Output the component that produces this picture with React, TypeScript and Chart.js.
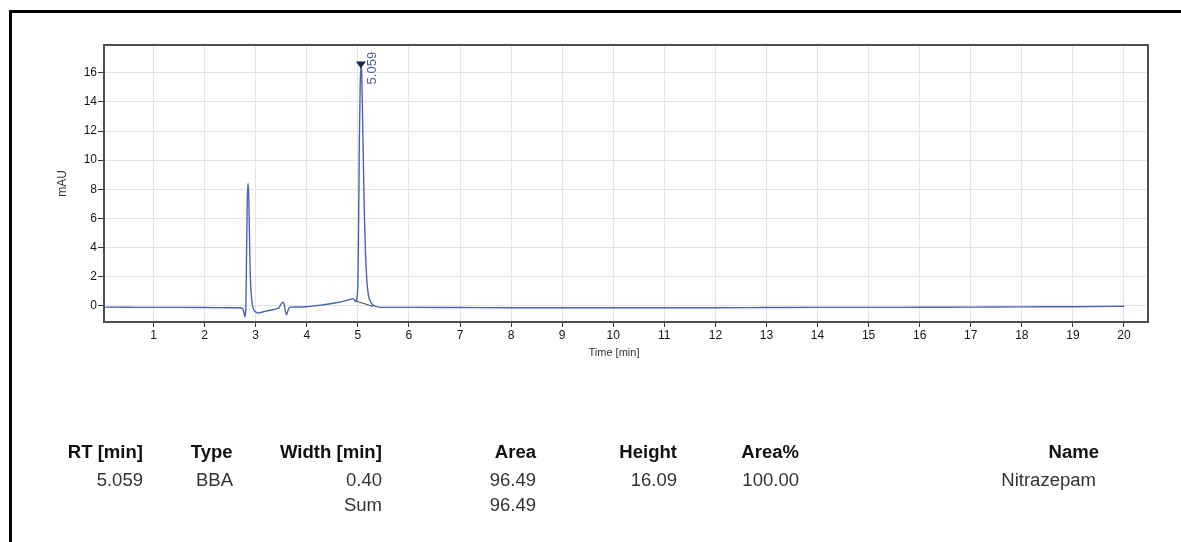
import React, { useEffect, useRef } from 'react';
import { Chart, registerables } from 'chart.js';

Chart.register(...registerables);

// ---- Data ----
const timeMin: number[] = [
  0.03, 0.5, 1.0, 1.5, 2.0, 2.5, 2.7, 2.74, 2.77, 2.79, 2.805, 2.815, 2.825, 2.835, 2.85, 2.865,
  2.875, 2.885, 2.9, 2.92, 2.95, 3.0, 3.05, 3.1, 3.2, 3.3, 3.4, 3.46, 3.5, 3.53, 3.56, 3.58,
  3.6, 3.62, 3.65, 3.7, 3.8, 4.0, 4.2, 4.4, 4.6, 4.75, 4.85, 4.9, 4.93, 4.96, 4.98, 5.0, 5.01,
  5.02, 5.03, 5.045, 5.06, 5.075, 5.09, 5.11, 5.13, 5.15, 5.17, 5.19, 5.21, 5.24, 5.28, 5.33,
  5.4, 5.6, 6, 7, 8, 9, 10, 11, 12, 13, 14, 15, 16, 17, 18, 19, 20,
];
const signalMAU: number[] = [
  -0.08, -0.09, -0.1, -0.1, -0.11, -0.12, -0.12, -0.15, -0.45, -0.75, -0.3, 1.8, 4.6, 7.2, 8.4,
  7.4, 5.4, 3.4, 1.6, 0.5, -0.15, -0.42, -0.48, -0.45, -0.35, -0.28, -0.2, -0.1, 0.15, 0.25, 0.1,
  -0.35, -0.6, -0.45, -0.15, -0.08, -0.07, -0.05, 0.03, 0.12, 0.24, 0.35, 0.45, 0.5, 0.42, 0.3,
  0.5, 1.5, 4.0, 7.5, 11.5, 15.0, 16.5, 16.0, 13.5, 9.5, 6.0, 3.6, 2.1, 1.2, 0.7, 0.35, 0.12,
  0.0, -0.08, -0.1, -0.1, -0.11, -0.12, -0.12, -0.12, -0.12, -0.12, -0.11, -0.1, -0.1, -0.09,
  -0.08, -0.06, -0.05, -0.02,
];
const baselineTime: number[] = [4.93, 5.3];
const baselineMAU: number[] = [0.38, -0.04];

const xTickValues: number[] = [1, 2, 3, 4, 5, 6, 7, 8, 9, 10, 11, 12, 13, 14, 15, 16, 17, 18, 19, 20];
const yTickValues: number[] = [0, 2, 4, 6, 8, 10, 12, 14, 16];

const peakRT: number = 5.059;
const peakLabel: string = '5.059';

const tableHeaders: string[] = ['RT [min]', 'Type', 'Width [min]', 'Area', 'Height', 'Area%', 'Name'];
const tableRow: string[] = ['5.059', 'BBA', '0.40', '96.49', '16.09', '100.00', 'Nitrazepam'];
const tableSumRow: string[] = ['', '', 'Sum', '96.49', '', '', ''];

// ---- Layout (positions / styles) ----
const W = 1181;
const H = 542;
const FONT = '"Liberation Sans", Arial, Helvetica, sans-serif';
const colRight: number[] = [143, 233, 382, 536, 677, 799, 1099];
const nameRowRight = 1096;

const frameAndMarkerPlugin = {
  id: 'frameAndMarker',
  afterDatasetsDraw(chart: any) {
    const { ctx, chartArea, scales } = chart;
    ctx.save();
    // plot frame
    ctx.strokeStyle = '#4f4f4f';
    ctx.lineWidth = 2;
    ctx.strokeRect(chartArea.left, chartArea.top, chartArea.right - chartArea.left, chartArea.bottom - chartArea.top);
    // peak marker
    let apex = -Infinity;
    timeMin.forEach((t, i) => {
      if (Math.abs(t - peakRT) < 0.1 && signalMAU[i] > apex) apex = signalMAU[i];
    });
    const px = scales.x.getPixelForValue(peakRT);
    const py = scales.y.getPixelForValue(apex);
    ctx.fillStyle = '#1c2550';
    ctx.beginPath();
    ctx.moveTo(px - 5, py - 4);
    ctx.lineTo(px + 5, py - 4);
    ctx.lineTo(px, py + 3);
    ctx.closePath();
    ctx.fill();
    // rotated RT label
    ctx.translate(px + 12, py + 19);
    ctx.rotate(-Math.PI / 2);
    ctx.fillStyle = '#4e5f97';
    ctx.font = `13px ${FONT}`;
    ctx.textAlign = 'left';
    ctx.textBaseline = 'middle';
    ctx.fillText(peakLabel, 0, 0);
    ctx.restore();
  },
};

export default function App() {
  const canvasRef = useRef<HTMLCanvasElement | null>(null);

  useEffect(() => {
    document.body.style.margin = '0';
    const canvas = canvasRef.current;
    if (!canvas) return;
    const chart = new Chart(canvas, {
      type: 'line',
      data: {
        datasets: [
          {
            data: timeMin.map((t, i) => ({ x: t, y: signalMAU[i] })),
            borderColor: '#4a63b6',
            borderWidth: 1.4,
            pointRadius: 0,
            tension: 0.25,
            cubicInterpolationMode: 'monotone',
            fill: false,
          },
          {
            data: baselineTime.map((t, i) => ({ x: t, y: baselineMAU[i] })),
            borderColor: '#3a3f55',
            borderWidth: 1,
            pointRadius: 0,
            fill: false,
          },
        ],
      },
      options: {
        animation: false,
        responsive: false,
        devicePixelRatio: 1,
        layout: { padding: { left: 0, right: 33, top: 45, bottom: 190 } },
        plugins: { legend: { display: false }, tooltip: { enabled: false } },
        scales: {
          x: {
            type: 'linear',
            min: 0.03,
            max: 20.47,
            afterBuildTicks: (s: any) => {
              s.ticks = xTickValues.map((v) => ({ value: v }));
            },
            afterFit: (s: any) => {
              s.height = 30;
            },
            border: { display: false },
            grid: { color: '#e2e4ea', lineWidth: 1, tickLength: 5, tickColor: '#333', drawTicks: true },
            ticks: {
              color: '#151515',
              font: { family: FONT, size: 12 },
              padding: 1,
              maxRotation: 0,
              autoSkip: false,
            },
          },
          y: {
            type: 'linear',
            min: -1.1,
            max: 17.9,
            afterBuildTicks: (s: any) => {
              s.ticks = yTickValues.map((v) => ({ value: v }));
            },
            afterFit: (s: any) => {
              s.width = 104;
            },
            border: { display: false },
            grid: { color: '#e2e4ea', lineWidth: 1, tickLength: 6, tickColor: '#333', drawTicks: true },
            title: {
              display: true,
              text: 'mAU',
              color: '#333',
              font: { family: FONT, size: 12 },
              padding: { top: 55, bottom: 0 },
            },
            ticks: {
              color: '#151515',
              font: { family: FONT, size: 12 },
              padding: 1,
              autoSkip: false,
            },
          },
        },
      },
      plugins: [frameAndMarkerPlugin],
    } as any);
    return () => chart.destroy();
  }, []);

  const cell = (text: string, right: number, centerY: number, bold: boolean, key: string) =>
    text ? (
      <div
        key={key}
        style={{
          position: 'absolute',
          right: W - right,
          top: centerY - 11,
          height: 22,
          lineHeight: '22px',
          fontFamily: FONT,
          fontSize: 18,
          fontWeight: bold ? 700 : 400,
          color: bold ? '#111' : '#333',
          whiteSpace: 'nowrap',
          transform: 'scaleX(1.03)',
          transformOrigin: 'right center',
        }}
      >
        {text}
      </div>
    ) : null;

  return (
    <div style={{ position: 'fixed', left: 0, top: 0, width: W, height: H, overflow: 'hidden', background: '#fff' }}>
      <canvas ref={canvasRef} width={W} height={H} style={{ position: 'absolute', left: 0, top: 0, width: W, height: H }} />
      <div
        style={{
          position: 'absolute',
          left: 9,
          top: 10,
          width: W,
          height: H,
          borderTop: '3px solid #000',
          borderLeft: '3px solid #000',
          pointerEvents: 'none',
        }}
      />
      <div
        style={{
          position: 'absolute',
          left: 560,
          width: 108,
          top: 345,
          textAlign: 'center',
          fontFamily: FONT,
          fontSize: 11,
          color: '#333',
          lineHeight: '14px',
        }}
      >
        Time [min]
      </div>
      {tableHeaders.map((h, i) => cell(h, colRight[i], 452, true, 'h' + i))}
      {tableRow.map((v, i) => cell(v, i === 6 ? nameRowRight : colRight[i], 480, false, 'r' + i))}
      {tableSumRow.map((v, i) => cell(v, colRight[i], 505, false, 's' + i))}
    </div>
  );
}
